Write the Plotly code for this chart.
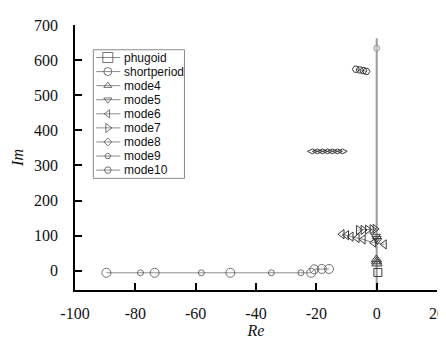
import plotly.graph_objects as go

# ---------------- data ----------------
phugoid_re = [0.4]
phugoid_im = [-5]

short_re = [0, 0, 0]
short_im = [-55, 634, 662]

mode4_re = [0.1, 0.0, -0.1]
mode4_im = [20, 26, 32]

mode5_re = [-0.3, 0.0, 0.2]
mode5_im = [98, 92, 86]

mode6_re = [-11.5, -10.0, -8.5, -6.5, -4.5, -1.0, 2.5]
mode6_im = [104, 101, 97, 93, 89, 80, 75]

mode7_re = [-6.0, -4.5, -3.0, -1.5, -0.5]
mode7_im = [116, 116, 117, 118, 119]

mode8_re = [-21.3, -19.6, -18.0, -16.3, -14.7, -13.0, -11.4]
mode8_im = [340, 340, 340, 340, 340, 340, 340]

mode9_re = [-6.9, -5.6, -4.4, -3.4]
mode9_im = [574, 572, 570, 568]

mode10_re = [-89.6, -78.3, -73.6, -58.1, -48.5, -34.9, -25.1, -21.7, -20.7, -18.2, -15.8]
mode10_im = [-6, -6, -6, -6, -6, -6, -6, -6, 4, 5, 5]
mode10_narrow = [False, True, False, True, False, True, True, False, False, False, False]

x_ticks = [-100, -80, -60, -40, -20, 0, 20]
x_labels = ["-100", "-80", "-60", "-40", "-20", "0", "20"]
y_ticks = [0, 100, 200, 300, 400, 500, 600, 700]
y_labels = ["0", "100", "200", "300", "400", "500", "600", "700"]

legend_names = ["phugoid", "shortperiod", "mode4", "mode5", "mode6",
                "mode7", "mode8", "mode9", "mode10"]

# ---------------- styling ----------------
MK = "#3a3a3a"
LN = "#8c8c8c"
W, H = 446, 339
OFF = 8                      # default page body margin
PL, PR, PT, PB = 62, 437.3, 17, 290   # plot area in page pixels
serif = "Liberation Serif"
sans = "Liberation Sans"

fig = go.Figure()

def add(xs, ys, sym, size, name, lw=1, lc=LN):
    fig.add_trace(go.Scatter(
        x=xs, y=ys, mode="lines+markers", name=name, showlegend=False,
        line=dict(color=lc, width=lw),
        marker=dict(symbol=sym, size=size, color=MK,
                    line=dict(color=MK, width=1)),
        cliponaxis=False))

# vertical shortperiod line with a single visible marker
fig.add_trace(go.Scatter(
    x=short_re, y=short_im, mode="lines+markers", showlegend=False,
    line=dict(color="#9a9a9a", width=2),
    marker=dict(symbol="circle", size=[0, 6, 0], color="#d0d0d0",
                line=dict(color="#808080", width=1))))

add(mode10_re, mode10_im, "circle-open",
    [6 if n else 9 for n in mode10_narrow], "mode10")
add(mode8_re, mode8_im, "diamond-wide-open", 7, "mode8")
add(mode9_re, mode9_im, "hexagon2-open", 7, "mode9")
add(mode6_re, mode6_im, "triangle-left-open", 8, "mode6")
add(mode7_re, mode7_im, "triangle-right-open", 8, "mode7")
add(mode5_re, mode5_im, "triangle-down-open", 8, "mode5")
add(mode4_re, mode4_im, "triangle-up-open", 9, "mode4")
add(phugoid_re, phugoid_im, "square-open", 8, "phugoid")

# ---------------- hand-drawn legend (page-pixel overlay axes) ----------------
leg_syms = ["square-open", "circle-open", "triangle-up-open", "triangle-down-open",
            "triangle-left-open", "triangle-right-open", "diamond-open",
            "pentagon-open", "hexagon2-open"]
leg_sizes = [10, 8, 7, 7, 7, 8, 6, 6, 7]
lx0, lx1, lmid = 84, 109, 96
ly0, dy = 50.5, 14.5
for i, (nm, sy, sz) in enumerate(zip(legend_names, leg_syms, leg_sizes)):
    yy = ly0 + i * dy
    fig.add_trace(go.Scatter(
        x=[lx0, lmid, lx1], y=[yy, yy, yy], xaxis="x2", yaxis="y2",
        mode="lines+markers", showlegend=False, hoverinfo="skip",
        line=dict(color=LN, width=1),
        marker=dict(symbol=sy, size=[0, sz, 0], color=MK,
                    line=dict(color=MK, width=1))))
    fig.add_annotation(x=111, y=yy, xref="x2", yref="y2", text=nm,
                       showarrow=False, xanchor="left", yanchor="middle",
                       font=dict(family=sans, size=12, color="#111"))
fig.add_shape(type="rect", xref="x2", yref="y2", x0=81, x1=175.5, y0=42.5, y1=175,
              line=dict(color="#8a8a8a", width=1), fillcolor="rgba(0,0,0,0)")

fig.update_layout(
    width=W, height=H,
    margin=dict(l=PL - OFF, r=W - (PR - OFF), t=PT - OFF, b=H - (PB - OFF), pad=0),
    paper_bgcolor="white", plot_bgcolor="white",
    font=dict(family=serif, size=16, color="#111"),
    xaxis=dict(range=[-100, 20], tickvals=x_ticks, ticktext=x_labels,
               ticks="inside", ticklen=7,
               tickwidth=1.5, tickcolor="black", showline=True, linecolor="black",
               linewidth=1.5, showgrid=False, zeroline=False, ticklabelstandoff=8,
               tickfont=dict(family=serif, size=16, color="#111"),
               title=dict(text="<i>Re</i>", standoff=4,
                          font=dict(family=serif, size=16))),
    yaxis=dict(range=[-55, 700], tickvals=y_ticks, ticktext=y_labels,
               ticks="inside", ticklen=7,
               tickwidth=1.5, tickcolor="black", showline=True, linecolor="black",
               linewidth=1.5, showgrid=False, zeroline=False, ticklabelstandoff=12,
               tickfont=dict(family=serif, size=16, color="#111"),
               title=dict(text="<i>Im</i>", standoff=6,
                          font=dict(family=serif, size=16))),
    xaxis2=dict(range=[PL, PR], overlaying="x", visible=False, fixedrange=True),
    yaxis2=dict(range=[PB, PT], overlaying="y", visible=False, fixedrange=True),
    showlegend=False,
)

fig.write_html("out.html")
